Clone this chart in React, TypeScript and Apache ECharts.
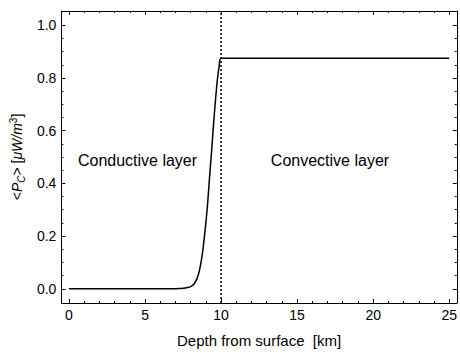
import React, { useEffect, useRef } from "react";
import * as echarts from "echarts";

// Depth from surface [km]
const depthKm: number[] = [0, 2, 4, 5, 6, 6.5, 7, 7.25, 7.5, 7.75, 8, 8.25, 8.5, 8.75, 9, 9.125, 9.25, 9.375, 9.5, 9.625, 9.75, 9.875, 10, 12, 15, 20, 25];
// <P_C> [µW/m^3]
const heatProduction: number[] = [0, 0, 0, 0, 0, 0, 0.0005, 0.001, 0.002, 0.004, 0.008, 0.02, 0.052, 0.125, 0.25, 0.33, 0.43, 0.52, 0.62, 0.71, 0.79, 0.845, 0.875, 0.875, 0.875, 0.875, 0.875];

const xMajorTicks: number[] = [0, 5, 10, 15, 20, 25];
const xMinorTicks: number[] = [1, 2, 3, 4, 6, 7, 8, 9, 11, 12, 13, 14, 16, 17, 18, 19, 21, 22, 23, 24];
const yMajorTicks: number[] = [0, 0.2, 0.4, 0.6, 0.8, 1.0];
const yMinorTicks: number[] = [0.05, 0.1, 0.15, 0.25, 0.3, 0.35, 0.45, 0.5, 0.55, 0.65, 0.7, 0.75, 0.85, 0.9, 0.95];
const boundaryDepth = 10;
const regionLabels: string[] = ["Conductive layer", "Convective layer"];

const X_MIN = -0.5;
const X_MAX = 25.5;
const Y_MIN = -0.054;
const Y_MAX = 1.054;
const FONT = "'Liberation Sans', Arial, sans-serif";

export default function App() {
  const ref = useRef<HTMLDivElement>(null);
  useEffect(() => {
    if (!ref.current) return;
    const chart = echarts.init(ref.current, undefined, { renderer: "svg" });

    const mkX = (pos: "bottom" | "top", ticks: number[], major: boolean, labels: boolean): any => ({
      type: "value",
      position: pos,
      min: X_MIN,
      max: X_MAX,
      axisLine: { show: major, onZero: false, lineStyle: { color: "#000", width: 1 } },
      axisTick: { show: true, inside: true, length: major ? 4 : 2, customValues: ticks, lineStyle: { color: "#000", width: 1 } },
      axisLabel: labels
        ? { show: true, customValues: ticks, color: "#000", fontSize: 14, fontFamily: FONT, margin: 5, formatter: (v: number) => String(v) }
        : { show: false },
      splitLine: { show: false },
      ...(labels
        ? {
            name: "Depth from surface  [km]",
            nameLocation: "middle",
            nameGap: 30,
            nameTextStyle: { color: "#000", fontSize: 15, fontFamily: FONT },
          }
        : {}),
    });
    const mkY = (pos: "left" | "right", ticks: number[], major: boolean, labels: boolean): any => ({
      type: "value",
      position: pos,
      min: Y_MIN,
      max: Y_MAX,
      axisLine: { show: major, onZero: false, lineStyle: { color: "#000", width: 1 } },
      axisTick: { show: true, inside: true, length: major ? 4 : 2, customValues: ticks, lineStyle: { color: "#000", width: 1 } },
      axisLabel: labels
        ? { show: true, customValues: ticks, color: "#000", fontSize: 14, fontFamily: FONT, margin: 5, formatter: (v: number) => v.toFixed(1) }
        : { show: false },
      splitLine: { show: false },
      ...(labels
        ? {
            name: "{a|<}{i|P}{sub|C}{a|> [}{i|μW/m}{sup|3}{a|]}",
            nameLocation: "middle",
            nameRotate: 90,
            nameGap: 34,
            nameTextStyle: {
              color: "#000",
              fontSize: 14,
              fontFamily: FONT,
              rich: {
                a: { fontSize: 14, fontFamily: FONT, color: "#000" },
                i: { fontSize: 14, fontFamily: FONT, fontStyle: "italic", color: "#000" },
                sub: { fontSize: 10, fontFamily: FONT, fontStyle: "italic", color: "#000", padding: [8, 0, 0, 0] },
                sup: { fontSize: 10, fontFamily: FONT, color: "#000", padding: [0, 0, 8, 0] },
              },
            },
          }
        : {}),
    });

    chart.setOption({
      animation: false,
      backgroundColor: "#fff",
      grid: { left: 61, top: 11, width: 398, height: 298, containLabel: false },
      xAxis: [
        mkX("bottom", xMajorTicks, true, true),
        mkX("bottom", xMinorTicks, false, false),
        mkX("top", xMajorTicks, true, false),
        mkX("top", xMinorTicks, false, false),
      ],
      yAxis: [
        mkY("left", yMajorTicks, true, true),
        mkY("left", yMinorTicks, false, false),
        mkY("right", yMajorTicks, true, false),
        mkY("right", yMinorTicks, false, false),
      ],
      series: [
        {
          type: "line",
          xAxisIndex: 0,
          yAxisIndex: 0,
          data: depthKm.map((d, i) => [d, heatProduction[i]]),
          smooth: 0.3,
          showSymbol: false,
          symbol: "none",
          lineStyle: { color: "#000", width: 1.5 },
          markLine: {
            silent: true,
            symbol: "none",
            label: { show: false },
            lineStyle: { color: "#000", width: 1.5, type: [2, 2] },
            data: [{ xAxis: boundaryDepth }],
          },
        },
      ],
      graphic: [
        {
          type: "text",
          x: 137.5,
          y: 160.5,
          style: { text: regionLabels[0], fill: "#000", fontSize: 16, fontFamily: FONT, align: "center", verticalAlign: "middle" },
        },
        {
          type: "text",
          x: 330,
          y: 160,
          style: { text: regionLabels[1], fill: "#000", fontSize: 16, fontFamily: FONT, align: "center", verticalAlign: "middle" },
        },
      ],
    });
    return () => chart.dispose();
  }, []);
  return <div ref={ref} style={{ position: "absolute", left: 0, top: 0, width: 460, height: 353 }} />;
}
